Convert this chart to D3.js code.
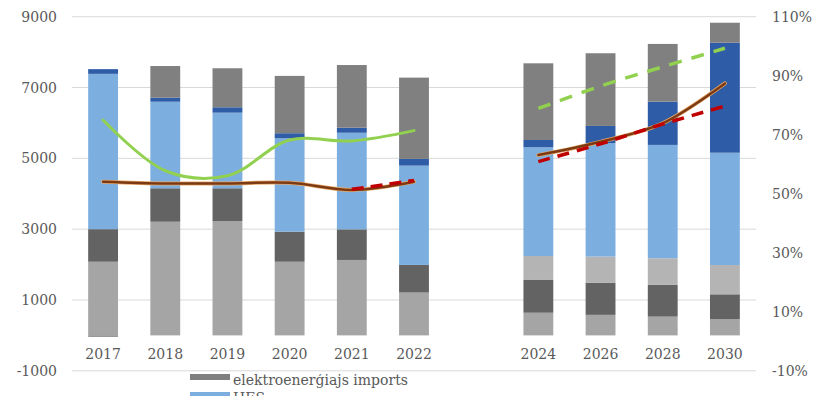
<!DOCTYPE html>
<html>
<head>
<meta charset="utf-8">
<script src="https://cdn.jsdelivr.net/npm/d3@7"></script>
<style>
  html, body { margin: 0; padding: 0; background: #fff; }
  svg { display: block; }
  text { font-family: "DejaVu Serif", "Liberation Serif", serif; fill: #595959; }
</style>
</head>
<body>
<svg id="chart" width="816" height="396"></svg>
<script>
// ---- data ----
const categories = ["2017", "2018", "2019", "2020", "2021", "2022", "2024", "2026", "2028", "2030"];
const gapAfter = "2022";

// stacked series, bottom to top (GWh)
const tecBase     = [2080, 3210, 3230, 2080, 2130, 1210, 640, 580, 530, 460];
const tecChp      = [920, 945, 925, 850, 865, 780, 925, 910, 895, 700];
const newCapacity = [0, 0, 0, 0, 0, 0, 677, 735, 754, 827];
const hes         = [4386, 2444, 2135, 2638, 2728, 2804, 3070, 3202, 3200, 3172];
const wind        = [133, 113, 152, 141, 142, 190, 206, 488, 1223, 3106];
const imports     = [-40, 895, 1102, 1619, 1770, 2296, 2166, 2053, 1629, 565];

const seriesNames  = ["tecBase", "tecChp", "newCapacity", "HES", "wind", "elektroenerģiajs imports"];
const seriesValues = [tecBase, tecChp, newCapacity, hes, wind, imports];
const seriesColors = ["#a5a5a5", "#636363", "#b4b4b4", "#7cafdf", "#2f5ca6", "#808080"];

// line series (share, right axis)
const greenHist  = [0.750, 0.578, 0.561, 0.682, 0.679, 0.714, null, null, null, null];
const greenFcst  = [null, null, null, null, null, null, 0.789, 0.865, 0.930, 0.993];
const brownHist  = [0.541, 0.535, 0.535, 0.537, 0.513, 0.541, null, null, null, null];
const brownFcst  = [null, null, null, null, null, null, 0.631, 0.676, 0.739, 0.874];
const redHist    = [null, null, null, null, 0.515, 0.545, null, null, null, null];
const redFcst    = [null, null, null, null, null, null, 0.609, 0.669, 0.736, 0.797];

const leftTicks  = [-1000, 1000, 3000, 5000, 7000, 9000];
const rightTicks = [-0.1, 0.1, 0.3, 0.5, 0.7, 0.9, 1.1];

const legendNames = ["elektroenerģiajs imports", "HES"];
const legendColors = ["#808080", "#7cafdf"];

// ---- layout ----
const svg = d3.select("#chart");
const plotLeft = 72, plotRight = 756, plotTop = 16.7, plotBottom = 370.8;

const domain = [];
categories.forEach(c => { domain.push(c); if (c === gapAfter) domain.push("__gap__"); });

const x = d3.scaleBand().domain(domain).range([plotLeft, plotRight]).paddingInner(0.52).paddingOuter(0.26);
const y = d3.scaleLinear().domain([-1000, 9000]).range([plotBottom, plotTop]);
const y2 = d3.scaleLinear().domain([-0.1, 1.1]).range([plotBottom, plotTop]);

const fmtLeft = d => String(d);
const fmtRight = d => Math.round(d * 100) + "%";

// gridlines
svg.append("g").selectAll("line").data(leftTicks).join("line")
  .attr("x1", plotLeft).attr("x2", plotRight)
  .attr("y1", d => y(d)).attr("y2", d => y(d))
  .attr("stroke", "#d9d9d9").attr("stroke-width", 1);

// left axis labels
const leftAxis = d3.axisLeft(y).tickValues(leftTicks).tickSize(0).tickPadding(0).tickFormat(fmtLeft);
const gl = svg.append("g").attr("transform", "translate(57,0)").call(leftAxis);
gl.select(".domain").remove();
gl.selectAll("text").attr("font-size", 14).style("font-family", "DejaVu Serif, serif").attr("fill", "#595959");

// right axis labels
const rightAxis = d3.axisRight(y2).tickValues(rightTicks).tickSize(0).tickPadding(0).tickFormat(fmtRight);
const gr = svg.append("g").attr("transform", "translate(772,0)").call(rightAxis);
gr.select(".domain").remove();
gr.selectAll("text").attr("font-size", 14).style("font-family", "DejaVu Serif, serif").attr("fill", "#595959");

// x labels
const xAxis = d3.axisBottom(x).tickValues(categories).tickSize(0).tickPadding(0);
const gx = svg.append("g").attr("transform", "translate(0,349)").call(xAxis);
gx.select(".domain").remove();
gx.selectAll("text").attr("font-size", 14).style("font-family", "DejaVu Serif, serif").attr("fill", "#595959");

// stacked bars
const rows = categories.map((c, i) => {
  const r = { cat: c };
  seriesNames.forEach((n, j) => r[n] = seriesValues[j][i]);
  return r;
});
const stack = d3.stack().keys(seriesNames).offset(d3.stackOffsetDiverging);
const stacked = stack(rows);

svg.append("g").selectAll("g").data(stacked).join("g")
  .attr("fill", (d, i) => seriesColors[i])
  .selectAll("rect").data(d => d).join("rect")
  .attr("x", d => x(d.data.cat))
  .attr("width", x.bandwidth())
  .attr("y", d => y(Math.max(d[0], d[1])))
  .attr("height", d => Math.abs(y(d[0]) - y(d[1])));

// lines
function drawLine(values, color, width, dash, curve) {
  const pts = categories.map((c, i) => ({ c, v: values[i] }));
  const line = d3.line()
    .defined(d => d.v !== null)
    .x(d => x(d.c) + x.bandwidth() / 2)
    .y(d => y2(d.v))
    .curve(curve);
  svg.append("path").datum(pts)
    .attr("d", line)
    .attr("fill", "none")
    .attr("stroke", color)
    .attr("stroke-width", width)
    .attr("stroke-linecap", dash ? "butt" : "round")
    .attr("stroke-dasharray", dash || null);
}
const smooth = d3.curveCatmullRom.alpha(0.5);
drawLine(greenHist, "#92d050", 3, null, smooth);
drawLine(greenFcst, "#92d050", 3.5, "13,10", smooth);
drawLine(brownHist, "#e9a868", 4, null, smooth);
drawLine(brownHist, "#7b3a14", 2.5, null, smooth);
drawLine(brownFcst, "#e9a868", 4, null, smooth);
drawLine(brownFcst, "#7b3a14", 2.5, null, smooth);
drawLine(redHist, "#c00000", 3.5, "12,7", smooth);
drawLine(redFcst, "#c00000", 3.5, "12,8", smooth);

// legend
const lg = svg.append("g");
legendNames.forEach((n, i) => {
  const yy = 380 + i * 18;
  lg.append("rect").attr("x", 190).attr("y", yy - 6).attr("width", 40).attr("height", 6).attr("fill", legendColors[i]);
  lg.append("text").attr("x", 233).attr("y", yy).attr("dy", "0.35em").attr("font-size", 14).text(n);
});
</script>
</body>
</html>
